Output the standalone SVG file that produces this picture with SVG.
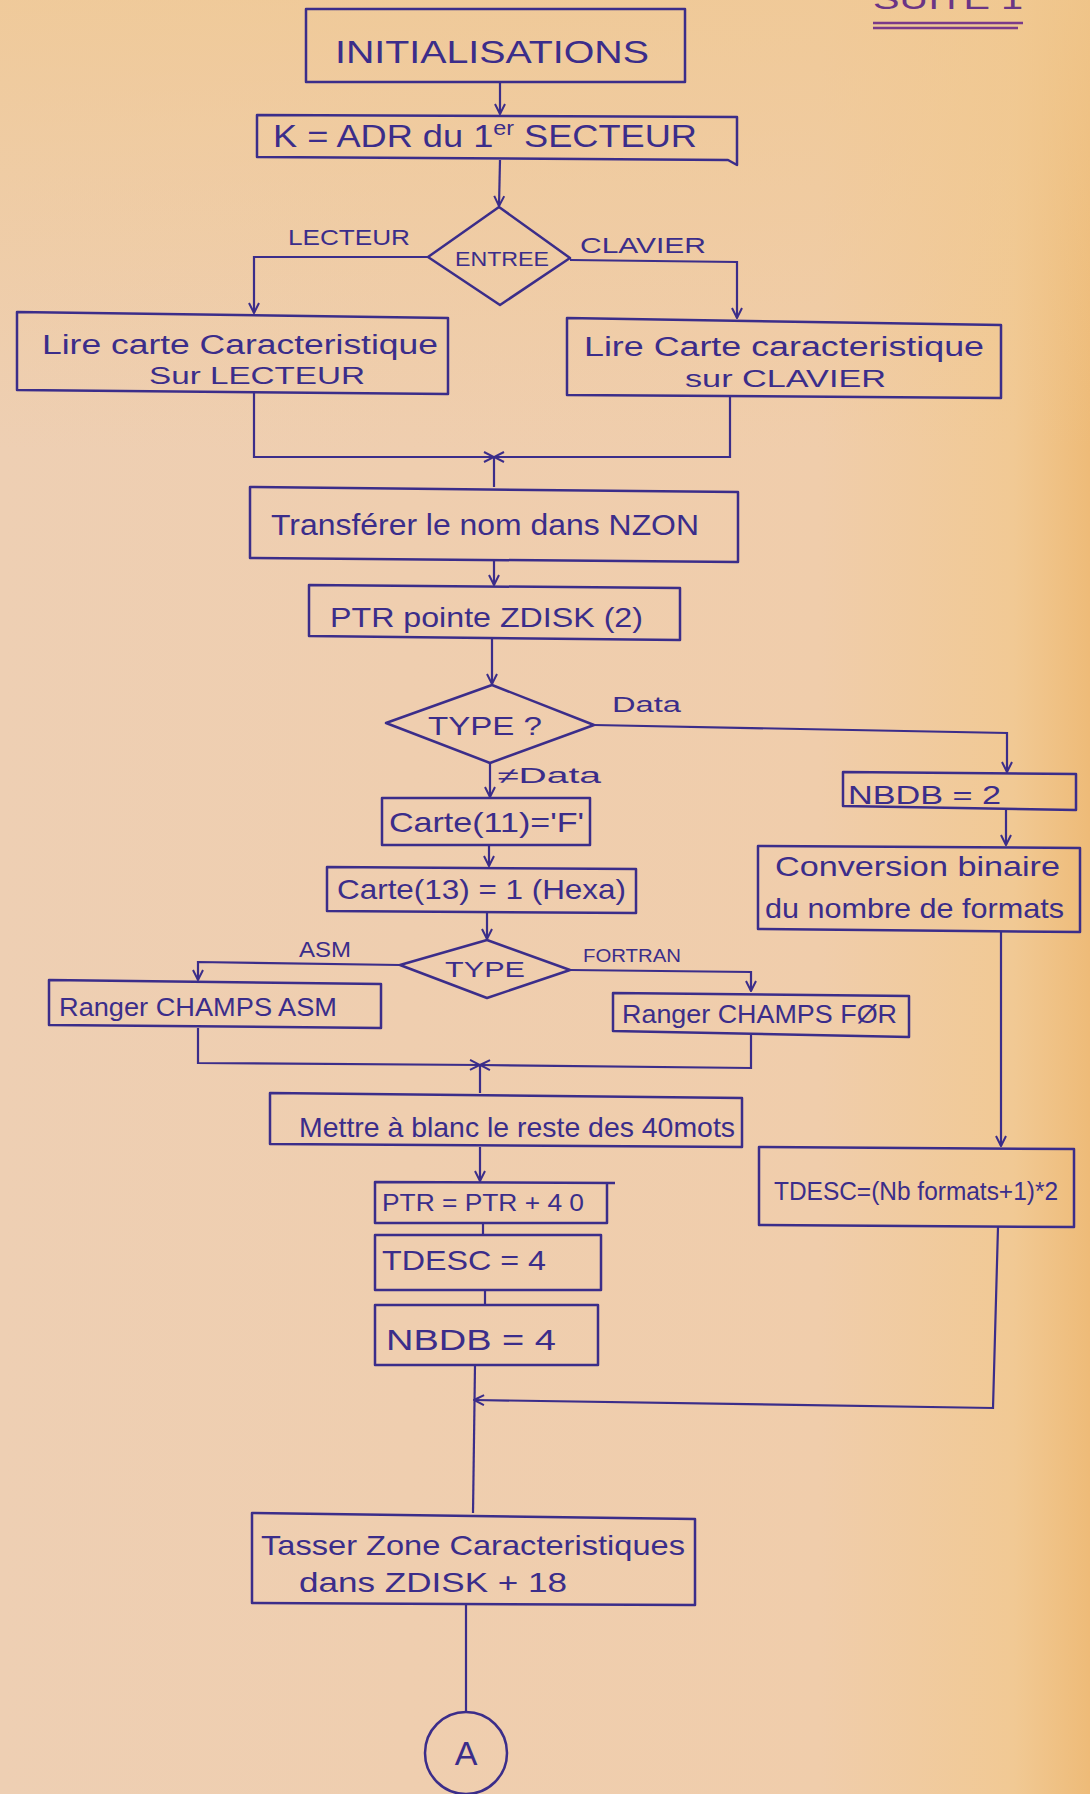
<svg xmlns="http://www.w3.org/2000/svg" width="1090" height="1794" viewBox="0 0 1090 1794">
<defs>
<linearGradient id="paper" x1="0" y1="0" x2="1" y2="0">
<stop offset="0" stop-color="#eecfb3"/>
<stop offset="0.75" stop-color="#f0cdab"/>
<stop offset="0.93" stop-color="#f1c994"/>
<stop offset="1" stop-color="#eebb78"/>
</linearGradient>
<linearGradient id="paperTop" x1="0" y1="0" x2="0" y2="1">
<stop offset="0" stop-color="#f0c890" stop-opacity="0.7"/>
<stop offset="0.25" stop-color="#f0c890" stop-opacity="0"/>
</linearGradient>
<marker id="arr" viewBox="0 0 12 12" refX="11" refY="6" markerWidth="12" markerHeight="12" markerUnits="userSpaceOnUse" orient="auto">
<path d="M1,1 L11,6 L1,11" fill="none" stroke="#3b2d8a" stroke-width="2"/>
</marker>
<style>
.box{fill:none;stroke:#3b2d8a;stroke-width:2.5;stroke-linejoin:round}
.ln{fill:none;stroke:#3b2d8a;stroke-width:2.2}
.t{font-family:"Liberation Sans","DejaVu Sans",sans-serif;fill:#3b2d8a}
</style>
</defs>
<rect width="1090" height="1794" fill="url(#paper)"/>
<rect width="1090" height="1794" fill="url(#paperTop)"/>

<g id="header">
<text class="t" x="873" y="9" font-size="30" textLength="150" lengthAdjust="spacingAndGlyphs" style="fill:#6b3585">SUITE 1</text>
<line x1="873" y1="23" x2="1023" y2="23" stroke="#7a3a8a" stroke-width="2.5"/>
<line x1="873" y1="28" x2="1018" y2="28" stroke="#7a3a8a" stroke-width="2.5"/>
</g>

<g id="connectors">
<line class="ln" x1="500" y1="82" x2="500" y2="114" marker-end="url(#arr)"/>
<line class="ln" x1="500" y1="160" x2="499" y2="206" marker-end="url(#arr)"/>
<polyline class="ln" points="428,257 254,257 254,313" marker-end="url(#arr)"/>
<polyline class="ln" points="570,260 737,262 737,318" marker-end="url(#arr)"/>
<polyline class="ln" points="254,392 254,457 494,457" marker-end="url(#arr)"/>
<polyline class="ln" points="730,397 730,457 494,457" marker-end="url(#arr)"/>
<line class="ln" x1="494" y1="457" x2="494" y2="487"/>
<line class="ln" x1="494" y1="560" x2="494" y2="585" marker-end="url(#arr)"/>
<line class="ln" x1="492" y1="638" x2="492" y2="684" marker-end="url(#arr)"/>
<polyline class="ln" points="594,725 1007,733 1007,772" marker-end="url(#arr)"/>
<line class="ln" x1="490" y1="763" x2="490" y2="797" marker-end="url(#arr)"/>
<line class="ln" x1="489" y1="845" x2="489" y2="866" marker-end="url(#arr)"/>
<line class="ln" x1="487" y1="913" x2="487" y2="939" marker-end="url(#arr)"/>
<polyline class="ln" points="400,965 198,962 198,980" marker-end="url(#arr)"/>
<polyline class="ln" points="570,970 751,972 751,991" marker-end="url(#arr)"/>
<polyline class="ln" points="198,1028 198,1063 480,1065" marker-end="url(#arr)"/>
<polyline class="ln" points="751,1035 751,1068 480,1065" marker-end="url(#arr)"/>
<line class="ln" x1="480" y1="1065" x2="480" y2="1093"/>
<line class="ln" x1="480" y1="1147" x2="480" y2="1181" marker-end="url(#arr)"/>
<line class="ln" x1="483" y1="1223" x2="483" y2="1235"/>
<line class="ln" x1="485" y1="1290" x2="485" y2="1305"/>
<line class="ln" x1="475" y1="1365" x2="473" y2="1513"/>
<line class="ln" x1="1006" y1="808" x2="1006" y2="845" marker-end="url(#arr)"/>
<line class="ln" x1="1001" y1="932" x2="1001" y2="1146" marker-end="url(#arr)"/>
<polyline class="ln" points="998,1227 993,1408 474,1400" marker-end="url(#arr)"/>
<line class="ln" x1="466" y1="1605" x2="466" y2="1712"/>
</g>

<g id="n-init">
<rect class="box" x="306" y="9" width="379" height="73"/>
<text class="t" x="335" y="63" font-size="32" textLength="314" lengthAdjust="spacingAndGlyphs">INITIALISATIONS</text>
</g>

<g id="n-k">
<path class="box" d="M257,115 L737,117 L737,165 L728,160 L257,157 Z"/>
<text class="t" x="273" y="147" font-size="31" textLength="424" lengthAdjust="spacingAndGlyphs">K = ADR du 1<tspan dy="-12" font-size="20">er</tspan><tspan dy="12"> SECTEUR</tspan></text>
</g>

<g id="n-entree">
<polygon class="box" points="499,207 570,258 500,305 428,257"/>
<text class="t" x="455" y="266" font-size="20" textLength="94" lengthAdjust="spacingAndGlyphs">ENTREE</text>
</g>
<g id="lbl-lecteur"><text class="t" x="288" y="245" font-size="22" textLength="122" lengthAdjust="spacingAndGlyphs">LECTEUR</text></g>
<g id="lbl-clavier"><text class="t" x="580" y="253" font-size="22" textLength="126" lengthAdjust="spacingAndGlyphs">CLAVIER</text></g>

<g id="n-lire-lecteur">
<path class="box" d="M17,312 L448,318 L448,394 L17,390 Z"/>
<text class="t" x="42" y="354" font-size="27" textLength="396" lengthAdjust="spacingAndGlyphs">Lire carte Caracteristique</text>
<text class="t" x="149" y="384" font-size="24" textLength="216" lengthAdjust="spacingAndGlyphs">Sur  LECTEUR</text>
</g>

<g id="n-lire-clavier">
<path class="box" d="M567,318 L1001,325 L1001,398 L567,395 Z"/>
<text class="t" x="584" y="356" font-size="27" textLength="400" lengthAdjust="spacingAndGlyphs">Lire Carte caracteristique</text>
<text class="t" x="685" y="387" font-size="24" textLength="201" lengthAdjust="spacingAndGlyphs">sur  CLAVIER</text>
</g>

<g id="n-transferer">
<path class="box" d="M250,487 L738,492 L738,562 L250,558 Z"/>
<text class="t" x="271" y="535" font-size="30" textLength="428" lengthAdjust="spacingAndGlyphs">Transférer  le  nom dans NZON</text>
</g>

<g id="n-ptr">
<path class="box" d="M309,585 L680,588 L680,640 L309,636 Z"/>
<text class="t" x="330" y="627" font-size="28" textLength="313" lengthAdjust="spacingAndGlyphs">PTR pointe ZDISK (2)</text>
</g>

<g id="n-type1">
<polygon class="box" points="492,685 594,725 490,763 386,723"/>
<text class="t" x="428" y="735" font-size="26" textLength="114" lengthAdjust="spacingAndGlyphs">TYPE ?</text>
</g>
<g id="lbl-data"><text class="t" x="612" y="712" font-size="22" textLength="69" lengthAdjust="spacingAndGlyphs">Data</text></g>
<g id="lbl-notdata"><text class="t" x="497" y="783" font-size="22" textLength="104" lengthAdjust="spacingAndGlyphs">≠Data</text></g>

<g id="n-carte11">
<rect class="box" x="382" y="798" width="208" height="47"/>
<text class="t" x="389" y="832" font-size="28" textLength="195" lengthAdjust="spacingAndGlyphs">Carte(11)='F'</text>
</g>

<g id="n-carte13">
<path class="box" d="M327,867 L636,869 L636,913 L327,911 Z"/>
<text class="t" x="337" y="899" font-size="28" textLength="289" lengthAdjust="spacingAndGlyphs">Carte(13) = 1 (Hexa)</text>
</g>

<g id="n-type2">
<polygon class="box" points="487,940 570,970 487,998 400,965"/>
<text class="t" x="445" y="977" font-size="22" textLength="80" lengthAdjust="spacingAndGlyphs">TYPE</text>
</g>
<g id="lbl-asm"><text class="t" x="299" y="957" font-size="22" textLength="52" lengthAdjust="spacingAndGlyphs">ASM</text></g>
<g id="lbl-fortran"><text class="t" x="583" y="962" font-size="18" textLength="98" lengthAdjust="spacingAndGlyphs">FORTRAN</text></g>

<g id="n-ranger-asm">
<path class="box" d="M49,980 L381,984 L381,1028 L49,1025 Z"/>
<text class="t" x="59" y="1016" font-size="26" textLength="278" lengthAdjust="spacingAndGlyphs">Ranger CHAMPS  ASM</text>
</g>

<g id="n-ranger-for">
<path class="box" d="M613,993 L909,996 L909,1037 L613,1031 Z"/>
<text class="t" x="622" y="1023" font-size="26" textLength="275" lengthAdjust="spacingAndGlyphs">Ranger  CHAMPS FØR</text>
</g>

<g id="n-mettre">
<path class="box" d="M270,1093 L742,1098 L742,1147 L270,1144 Z"/>
<text class="t" x="299" y="1137" font-size="28" textLength="436" lengthAdjust="spacingAndGlyphs">Mettre à blanc le reste des 40mots</text>
</g>

<g id="n-ptr40">
<path class="box" d="M615,1183 L375,1182 L375,1223 L607,1223 L607,1183"/>
<text class="t" x="382" y="1211" font-size="24" textLength="202" lengthAdjust="spacingAndGlyphs">PTR = PTR + 4 0</text>
</g>

<g id="n-tdesc4">
<rect class="box" x="375" y="1235" width="226" height="55"/>
<text class="t" x="382" y="1270" font-size="28" textLength="164" lengthAdjust="spacingAndGlyphs">TDESC = 4</text>
</g>

<g id="n-nbdb4">
<rect class="box" x="375" y="1305" width="223" height="60"/>
<text class="t" x="386" y="1350" font-size="30" textLength="170" lengthAdjust="spacingAndGlyphs">NBDB = 4</text>
</g>

<g id="n-nbdb2">
<path class="box" d="M843,772 L1076,774 L1076,810 L843,806 Z"/>
<text class="t" x="848" y="804" font-size="26" textLength="153" lengthAdjust="spacingAndGlyphs">NBDB = 2</text>
</g>

<g id="n-conversion">
<path class="box" d="M758,846 L1080,848 L1080,932 L758,929 Z"/>
<text class="t" x="775" y="876" font-size="28" textLength="285" lengthAdjust="spacingAndGlyphs">Conversion  binaire</text>
<text class="t" x="765" y="918" font-size="28" textLength="299" lengthAdjust="spacingAndGlyphs">du  nombre de formats</text>
</g>

<g id="n-tdesc-formula">
<path class="box" d="M759,1147 L1074,1149 L1074,1227 L759,1225 Z"/>
<text class="t" x="774" y="1200" font-size="26" textLength="284" lengthAdjust="spacingAndGlyphs">TDESC=(Nb formats+1)*2</text>
</g>

<g id="n-tasser">
<path class="box" d="M252,1513 L695,1519 L695,1605 L252,1603 Z"/>
<text class="t" x="261" y="1555" font-size="28" textLength="424" lengthAdjust="spacingAndGlyphs">Tasser Zone Caracteristiques</text>
<text class="t" x="299" y="1592" font-size="28" textLength="268" lengthAdjust="spacingAndGlyphs">dans  ZDISK + 18</text>
</g>

<g id="n-a">
<circle class="box" cx="466" cy="1753" r="41"/>
<text class="t" x="466" y="1765" font-size="34" text-anchor="middle">A</text>
</g>
</svg>
